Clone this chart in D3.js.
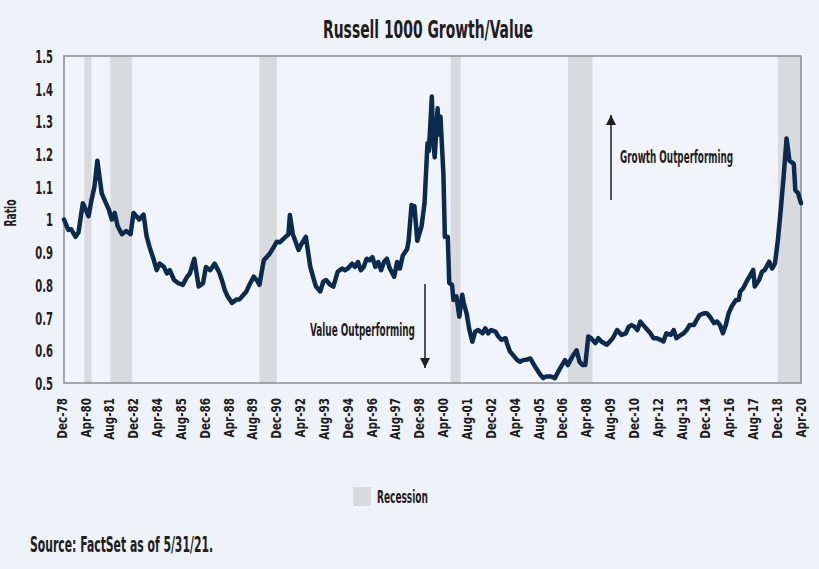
<!DOCTYPE html>
<html>
<head>
<meta charset="utf-8">
<script src="https://cdn.jsdelivr.net/npm/d3@7/dist/d3.min.js"></script>
<style>
  html, body { margin: 0; padding: 0; background: #EEF2F9; }
  svg { display: block; }
  text { font-family: "Liberation Sans Narrow", "DejaVu Sans Condensed", "Roboto", sans-serif; font-weight: bold; fill: #1F1D1E; }
</style>
</head>
<body>
<svg id="chart" width="819" height="569"></svg>
<script>
// ---- Data ----
const dates = [
"1978-12","1979-03","1979-05","1979-08","1979-10","1980-01","1980-05","1980-07","1980-09","1980-11",
"1981-02","1981-04","1981-07","1981-09","1981-11","1982-01","1982-04","1982-07","1982-10","1982-12",
"1983-02","1983-04","1983-07","1983-09","1983-11","1984-02","1984-04","1984-06","1984-09","1984-11",
"1985-01","1985-04","1985-07","1985-10","1986-01","1986-03","1986-06","1986-09","1986-12","1987-02",
"1987-05","1987-08","1987-11","1988-01","1988-03","1988-05","1988-08","1988-11","1989-01","1989-04",
"1989-06","1989-08","1989-11","1990-01","1990-03","1990-06","1990-08","1990-10","1991-01","1991-03",
"1991-05","1991-09","1991-11","1991-12","1992-02","1992-06","1992-08","1992-11","1993-02","1993-04",
"1993-06","1993-09","1993-11","1994-01","1994-04","1994-06","1994-09","1994-12","1995-02","1995-04",
"1995-07","1995-09","1995-11","1996-01","1996-03","1996-05","1996-07","1996-09","1996-11","1997-01",
"1997-03","1997-05","1997-07","1997-09","1997-12","1998-02","1998-04","1998-06","1998-09","1998-10",
"1998-12","1999-02","1999-04","1999-07","1999-09","1999-11","1999-12","2000-02","2000-03","2000-04",
"2000-06","2000-07","2000-08","2000-10","2000-11","2001-01","2001-02","2001-04","2001-05","2001-07",
"2001-09","2001-11","2001-12","2002-02","2002-04","2002-06","2002-08","2002-10","2003-01","2003-03",
"2003-05","2003-07","2003-10","2003-12","2004-02","2004-05","2004-06","2004-08","2004-10","2005-01",
"2005-03","2005-05","2005-08","2005-10","2005-12","2006-02","2006-05","2006-07","2006-09","2006-12",
"2007-03","2007-06","2007-10","2007-12","2008-03","2008-06","2008-08","2008-10","2008-12","2009-02",
"2009-04","2009-07","2009-09","2009-11","2010-03","2010-05","2010-07","2010-10","2011-01","2011-04",
"2011-06","2011-08","2011-10","2011-12","2012-02","2012-04","2012-07","2012-09","2012-11","2013-01",
"2013-04","2013-06","2013-08","2013-11","2014-01","2014-03","2014-06","2014-08","2014-10","2014-12",
"2015-03","2015-05","2015-07","2015-10","2015-12","2016-02","2016-05","2016-07","2016-09","2016-11",
"2017-01","2017-03","2017-05","2017-08","2017-10","2017-11","2018-01","2018-04","2018-06","2018-08",
"2018-09","2018-12","2019-02","2019-04","2019-07","2019-09","2019-11","2020-01","2020-03","2020-05",
"2020-07","2020-09","2020-12","2021-01","2021-03","2021-05"
];
const ratio = [
1.00,0.968,0.97,0.947,0.96,1.05,1.01,1.06,1.10,1.18,
1.08,1.06,1.03,1.00,1.02,0.98,0.955,0.965,0.955,1.02,
1.01,1.00,1.015,0.95,0.917,0.876,0.845,0.865,0.855,0.835,
0.845,0.815,0.805,0.80,0.825,0.835,0.88,0.795,0.805,0.855,
0.845,0.865,0.84,0.815,0.785,0.765,0.745,0.755,0.755,0.77,
0.78,0.80,0.825,0.815,0.80,0.876,0.885,0.895,0.917,0.932,
0.93,0.947,0.955,1.014,0.955,0.907,0.925,0.947,0.856,0.825,
0.795,0.78,0.81,0.815,0.80,0.795,0.84,0.85,0.845,0.85,
0.865,0.855,0.87,0.845,0.855,0.88,0.875,0.885,0.855,0.87,
0.845,0.87,0.88,0.85,0.825,0.87,0.85,0.89,0.91,0.935,
1.044,1.04,0.935,0.98,1.05,1.233,1.21,1.376,1.243,1.19,
1.34,1.26,1.314,1.14,0.947,0.947,0.806,0.80,0.754,0.765,
0.703,0.77,0.745,0.713,0.662,0.626,0.657,0.662,0.652,0.667,
0.652,0.662,0.657,0.642,0.632,0.637,0.62,0.596,0.586,0.57,
0.565,0.57,0.572,0.575,0.56,0.545,0.525,0.515,0.52,0.52,
0.515,0.54,0.57,0.555,0.58,0.60,0.565,0.555,0.555,0.642,
0.637,0.622,0.637,0.627,0.617,0.627,0.637,0.662,0.647,0.652,
0.672,0.677,0.672,0.662,0.688,0.677,0.662,0.652,0.637,0.637,
0.632,0.627,0.652,0.647,0.662,0.637,0.647,0.652,0.662,0.677,
0.677,0.693,0.708,0.713,0.713,0.703,0.683,0.688,0.677,0.652,
0.677,0.713,0.733,0.754,0.754,0.78,0.79,0.815,0.83,0.846,
0.795,0.815,0.84,0.846,0.871,0.85,0.866,0.937,1.029,1.131,
1.248,1.18,1.17,1.09,1.08,1.05
];
const recessionStart = ["1980-02","1981-08","1990-03","2001-03","2007-12","2020-01"];
const recessionEnd   = ["1980-07","1982-11","1991-03","2001-10","2009-05","2021-05"];
const yTicks = [0.5,0.6,0.7,0.8,0.9,1.0,1.1,1.2,1.3,1.4,1.5];
const xTickLabels = ["Dec-78","Apr-80","Aug-81","Dec-82","Apr-84","Aug-85","Dec-86","Apr-88",
  "Aug-89","Dec-90","Apr-92","Aug-93","Dec-94","Apr-96","Aug-97","Dec-98","Apr-00","Aug-01",
  "Dec-02","Apr-04","Aug-05","Dec-06","Apr-08","Aug-09","Dec-10","Apr-12","Aug-13","Dec-14",
  "Apr-16","Aug-17","Dec-18","Apr-20"];

// ---- Layout ----
const W = 819, H = 569;
const plot = {left: 64, right: 801, top: 56, bottom: 383};
const parse = d3.timeParse("%Y-%m");
const series = dates.map((d, i) => ({date: parse(d), v: ratio[i]}));
const FONT = '"Liberation Sans Narrow", "DejaVu Sans Condensed", sans-serif';
const INK = "#1F1D1E";

const svg = d3.select("#chart");
svg.append("rect").attr("width", W).attr("height", H).attr("fill", "#EEF2F9");

const x = d3.scaleTime()
  .domain([parse(dates[0]), parse(dates[dates.length - 1])])
  .range([plot.left, plot.right]);
const y = d3.scaleLinear().domain([0.5, 1.5]).range([plot.bottom, plot.top]);
const xLab = d3.scalePoint().domain(xTickLabels).range([61, 800]);

// condensed text helper: text drawn at origin, then placed & squeezed horizontally
function label(parent, str, px, py, size, sx, anchor, rot) {
  return parent.append("text")
    .attr("transform", `translate(${px},${py})${rot ? ` rotate(${rot})` : ""} scale(${sx},1)`)
    .attr("text-anchor", anchor || "start")
    .style("font-size", size + "px")
    .text(str);
}

// plot area
svg.append("rect")
  .attr("x", plot.left).attr("y", plot.top)
  .attr("width", plot.right - plot.left).attr("height", plot.bottom - plot.top)
  .attr("fill", "#F1F5FB");

// recession bands
svg.append("g").selectAll("rect")
  .data(recessionStart.map((s, i) => ({s: parse(s), e: parse(recessionEnd[i])})))
  .join("rect")
  .attr("x", d => x(d.s))
  .attr("y", plot.top)
  .attr("width", d => x(d.e) - x(d.s))
  .attr("height", plot.bottom - plot.top)
  .attr("fill", "#D9DADD");

// plot border
svg.append("rect")
  .attr("x", plot.left).attr("y", plot.top)
  .attr("width", plot.right - plot.left).attr("height", plot.bottom - plot.top)
  .attr("fill", "none").attr("stroke", "#8C8C8C").attr("stroke-width", 1.5);

// line
svg.append("path")
  .datum(series)
  .attr("fill", "none")
  .attr("stroke", "#0C2A4E")
  .attr("stroke-width", 4.5)
  .attr("stroke-linejoin", "round")
  .attr("stroke-linecap", "round")
  .attr("d", d3.line().x(d => x(d.date)).y(d => y(d.v)));

// y axis
const yAxis = svg.append("g")
  .attr("transform", `translate(${plot.left},0)`)
  .call(d3.axisLeft(y).tickValues(yTicks).tickSize(0).tickPadding(11)
    .tickFormat(d => Math.abs(d - 1) < 1e-9 ? "1" : d3.format(".1f")(d)));
yAxis.select(".domain").remove();
yAxis.selectAll("text")
  .attr("x", 0).attr("dy", "0.36em")
  .attr("transform", "translate(-11,0) scale(0.62,1)")
  .style("font-family", FONT).style("font-weight", "bold").style("font-size", "18px")
  .attr("fill", INK);

// x axis labels
const xAxis = svg.append("g")
  .attr("transform", `translate(0,${plot.bottom})`)
  .call(d3.axisBottom(xLab).tickSize(0).tickPadding(0));
xAxis.select(".domain").remove();
xAxis.selectAll("text")
  .attr("x", 0).attr("y", 0).attr("dy", "0.36em")
  .attr("transform", "rotate(-90) translate(-15,0) scale(0.8,1)")
  .style("text-anchor", "end")
  .style("font-family", FONT).style("font-weight", "bold").style("font-size", "14.5px")
  .attr("fill", INK);

// title
label(svg, "Russell 1000 Growth/Value", 428, 38, 25, 0.72, "middle");

// y title
label(svg, "Ratio", 16, 213, 16, 0.7, "middle", -90);

// annotations
svg.append("defs").append("marker")
  .attr("id", "arrow").attr("viewBox", "0 0 10 10").attr("refX", 10).attr("refY", 5)
  .attr("markerWidth", 10).attr("markerHeight", 10).attr("markerUnits", "userSpaceOnUse")
  .attr("orient", "auto")
  .append("path").attr("d", "M0,0 L10,5 L0,10 Z").attr("fill", INK);

svg.append("line").attr("x1", 425).attr("x2", 425).attr("y1", 284).attr("y2", 368)
  .attr("stroke", INK).attr("stroke-width", 1.5).attr("marker-end", "url(#arrow)");
label(svg, "Value Outperforming", 310, 336, 18, 0.62);

svg.append("line").attr("x1", 611).attr("x2", 611).attr("y1", 200).attr("y2", 115)
  .attr("stroke", INK).attr("stroke-width", 1.5).attr("marker-end", "url(#arrow)");
label(svg, "Growth Outperforming", 620, 163, 18, 0.62);

// legend
svg.append("rect").attr("x", 353).attr("y", 487).attr("width", 18).attr("height", 19).attr("fill", "#D9DADD");
label(svg, "Recession", 377, 503, 18, 0.62);

// source
label(svg, "Source: FactSet as of 5/31/21.", 30, 552, 21, 0.66);

// fit annotation/legend/source/title widths to reference extents
const targetW = new Map([
  ["Russell 1000 Growth/Value", 210], ["Value Outperforming", 105], ["Growth Outperforming", 113],
  ["Recession", 51], ["Source: FactSet as of 5/31/21.", 183], ["Ratio", 27]
]);
svg.selectAll(":scope > text").each(function () {
  const t = d3.select(this), want = targetW.get(t.text());
  if (!want) return;
  const n = this.getComputedTextLength();
  const tr = t.attr("transform").replace(/scale\([^)]*\)/, `scale(${(want / n).toFixed(3)},1)`);
  t.attr("transform", tr);
});
</script>
</body>
</html>
